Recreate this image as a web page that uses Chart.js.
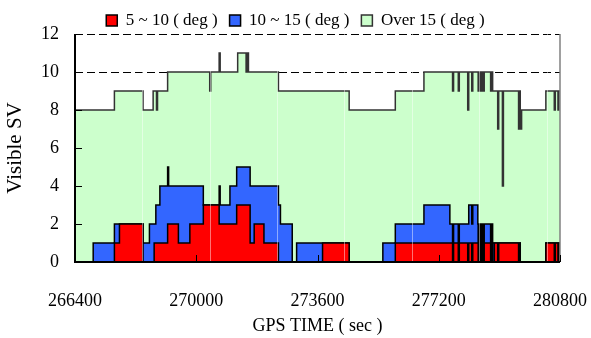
<!DOCTYPE html>
<html>
<head>
<meta charset="utf-8">
<title>Visible SV</title>
<script src="https://cdn.jsdelivr.net/npm/chart.js@4.4.1/dist/chart.umd.min.js"></script>
<style>
  html, body { margin: 0; padding: 0; background: #fff; }
</style>
</head>
<body>
<canvas id="svChart" width="591" height="338"></canvas>
<script>
// GPS time of each change in the satellite count (sec); each count holds until the next time
const stepTimes = [
  266400, 266940, 267570, 267720, 268420, 268610, 268720, 268750, 268800, 268820,
  268850, 268920, 269150, 269180, 269470, 269810, 270210, 270400, 270430, 270680,
  270710, 271000, 271200, 271230, 271480, 271510, 271550, 271600, 271720, 272010,
  272440, 272500, 272850, 272980, 273750, 274540, 275540, 275910, 276760, 277530,
  277610, 277640, 277780, 277810, 278060, 278090, 278180, 278210, 278360, 278370,
  278400, 278420, 278450, 278470, 278500, 278520, 278550, 278740, 278770, 278800,
  278850, 278950, 278980, 279090, 279120, 279570, 279600, 279620, 279660, 280380,
  280630, 280660, 280740, 280770, 280800
];

// satellites with elevation 5 ~ 10 deg
const svLow = [
  0, 0, 1, 2, 0, 0, 0, 1, 1, 1,
  1, 1, 2, 2, 1, 2, 3, 3, 3, 2,
  2, 2, 3, 3, 3, 3, 3, 1, 2, 1,
  0, 0, 0, 0, 1, 0, 0, 1, 1, 1,
  0, 1, 0, 1, 0, 1, 0, 1, 1, 0,
  1, 0, 1, 0, 1, 0, 1, 0, 1, 0,
  1, 0, 1, 1, 1, 0, 1, 0, 0, 1,
  0, 1, 0, 1, 1
];

// satellites with elevation 10 ~ 15 deg
const svMid = [
  0, 1, 1, 0, 1, 2, 2, 1, 2, 2,
  2, 3, 3, 2, 3, 2, 0, 0, 0, 2,
  1, 2, 2, 2, 2, 2, 2, 3, 2, 3,
  3, 2, 0, 1, 0, 0, 1, 1, 2, 1,
  1, 1, 1, 1, 2, 2, 2, 2, 1, 1,
  1, 1, 1, 1, 1, 1, 1, 1, 1, 1,
  0, 0, 0, 0, 0, 0, 0, 0, 0, 0,
  0, 0, 0, 0, 0
];

// satellites above 15 deg
const svHigh = [
  8, 7, 7, 7, 7, 6, 7, 7, 6, 5,
  6, 5, 5, 6, 6, 6, 7, 6, 7, 7,
  7, 6, 5, 6, 5, 6, 5, 6, 6, 6,
  6, 7, 9, 8, 8, 8, 7, 7, 7, 8,
  8, 8, 8, 8, 6, 7, 7, 7, 8, 8,
  8, 8, 8, 8, 8, 8, 8, 8, 8, 8,
  8, 7, 8, 3, 8, 7, 8, 7, 8, 8,
  8, 8, 8, 8, 8
];

const seriesLabels = ["5 ~ 10 ( deg )", "10 ~ 15 ( deg )", "Over 15 ( deg )"];
const seriesColors = ["#ff0000", "#3366ff", "#ccffcc"];

const xTicks = [266400, 270000, 273600, 277200, 280800];
const yTicks = [0, 2, 4, 6, 8, 10, 12];
const seamTimes = [268400, 270400, 272400, 274400, 276400, 278400, 280400];

const serif = "'Liberation Serif', 'Times New Roman', serif";
Chart.defaults.font.family = serif;
Chart.defaults.color = "#000";

function toSteps(counts) {
    return stepTimes.map((t, i) => ({ x: t, y: counts[i] }));
}

function makeDataset(i, counts) {
    return {
        label: seriesLabels[i],
        data: toSteps(counts),
        backgroundColor: seriesColors[i],
        borderColor: i === 2 ? "#333" : "#000",
        borderWidth: 1.5,
        stepped: true,
        pointRadius: 0,
        fill: i === 0 ? "origin" : "-1"
    };
}

// keep the legend row short so the plot starts right under it
const legendHeight = {
    id: "legendHeight",
    beforeUpdate(chart) {
        const legend = chart.legend;
        if (legend && !legend._fixedFit) {
            const fit = legend.fit;
            legend.fit = function () {
                fit.call(this);
                this.height = 34;
            };
            legend._fixedFit = true;
        }
    }
};

// frame, inward tick marks and the faint block seams
const plotFrame = {
    id: "plotFrame",
    afterDatasetsDraw(chart) {
        const { ctx, chartArea: a, scales: { x, y } } = chart;
        ctx.save();

        ctx.strokeStyle = "rgba(255,255,255,0.45)";
        ctx.lineWidth = 1;
        seamTimes.forEach(t => {
            const px = Math.round(x.getPixelForValue(t)) + 0.5;
            ctx.beginPath();
            ctx.moveTo(px, a.top);
            ctx.lineTo(px, a.bottom);
            ctx.stroke();
        });

        ctx.strokeStyle = "#808080";
        ctx.lineWidth = 1.5;
        ctx.beginPath();
        ctx.moveTo(a.right, a.top);
        ctx.lineTo(a.right, a.bottom);
        ctx.stroke();

        ctx.strokeStyle = "#000";
        ctx.lineWidth = 1;
        xTicks.forEach(v => {
            const px = Math.round(x.getPixelForValue(v)) + 0.5;
            ctx.beginPath();
            ctx.moveTo(px, a.bottom);
            ctx.lineTo(px, a.bottom - 7);
            ctx.stroke();
        });
        yTicks.forEach(v => {
            const py = Math.round(y.getPixelForValue(v)) + 0.5;
            ctx.beginPath();
            ctx.moveTo(a.left, py);
            ctx.lineTo(a.left + 7, py);
            ctx.stroke();
        });

        ctx.lineWidth = 2;
        ctx.beginPath();
        ctx.moveTo(a.left, a.top);
        ctx.lineTo(a.left, a.bottom);
        ctx.lineTo(a.right, a.bottom);
        ctx.stroke();

        ctx.restore();
    }
};

const ctx = document.getElementById("svChart").getContext("2d");

new Chart(ctx, {
    type: "line",
    data: {
        datasets: [
            makeDataset(0, svLow),
            makeDataset(1, svMid),
            makeDataset(2, svHigh)
        ]
    },
    options: {
        responsive: false,
        animation: false,
        devicePixelRatio: 1,
        layout: { padding: 0 },
        plugins: {
            legend: {
                position: "top",
                labels: {
                    font: { family: serif, size: 17 },
                    color: "#000",
                    boxWidth: 11,
                    boxHeight: 11,
                    padding: 12
                }
            },
            tooltip: { enabled: false }
        },
        scales: {
            x: {
                type: "linear",
                min: 266400,
                max: 280800,
                afterBuildTicks: scale => {
                    scale.ticks = xTicks.map(v => ({ value: v }));
                },
                afterFit: scale => {
                    scale.height = 76;
                    scale.paddingLeft = 0;
                    scale.paddingRight = 31;
                },
                ticks: {
                    font: { size: 18 },
                    color: "#000",
                    padding: 20,
                    maxRotation: 0,
                    callback: v => String(v)
                },
                grid: { display: false },
                border: { display: false },
                title: {
                    display: true,
                    text: "GPS TIME ( sec )",
                    font: { size: 18 },
                    color: "#000",
                    padding: { top: 0, bottom: 1 }
                }
            },
            y: {
                stacked: true,
                min: 0,
                max: 12,
                afterBuildTicks: scale => {
                    scale.ticks = yTicks.map(v => ({ value: v }));
                },
                afterFit: scale => {
                    scale.width = 75;
                },
                ticks: {
                    font: { size: 18 },
                    color: "#000",
                    padding: 16
                },
                grid: {
                    drawTicks: false,
                    lineWidth: 1,
                    color: c => (c.tick && (c.tick.value === 10 || c.tick.value === 12)) ? "#000" : "rgba(0,0,0,0)"
                },
                border: { display: false, dash: [8, 4] },
                title: {
                    display: true,
                    text: "Visible SV",
                    font: { size: 21 },
                    color: "#000",
                    padding: { top: 3, bottom: 0 }
                }
            }
        }
    },
    plugins: [legendHeight, plotFrame]
});
</script>
</body>
</html>
